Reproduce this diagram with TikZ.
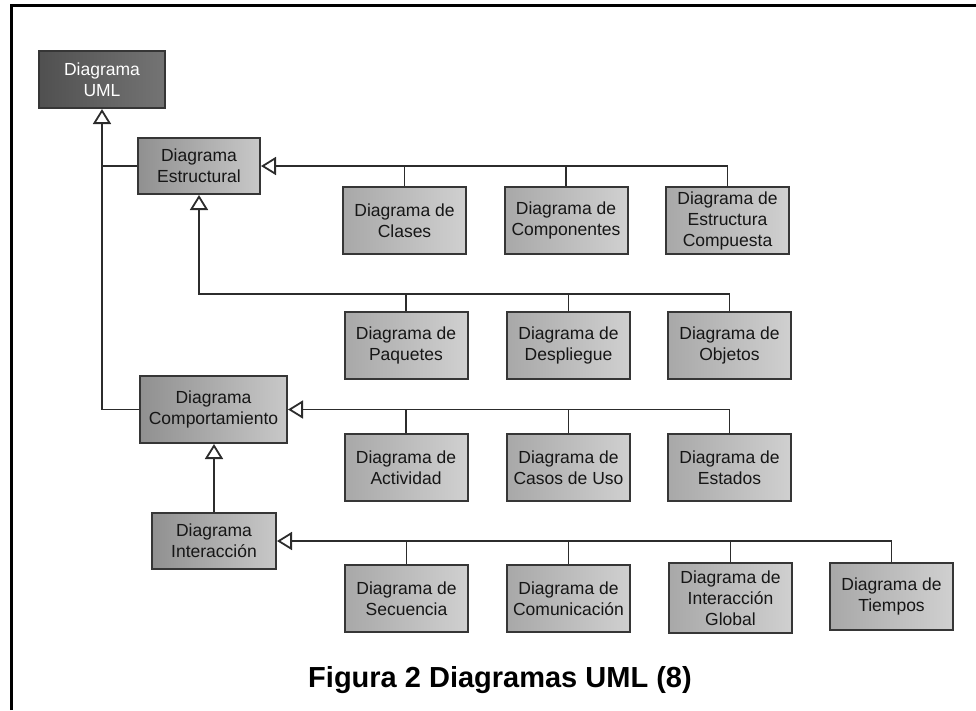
\documentclass[tikz,border=0pt]{standalone}
\usepackage{fontspec}
\setmainfont{Liberation Sans}
\usetikzlibrary{arrows.meta}
\definecolor{edge}{HTML}{2c2c2c}
\definecolor{boxline}{HTML}{363636}
\definecolor{umlA}{HTML}{505050}
\definecolor{umlB}{HTML}{747474}
\definecolor{parA}{HTML}{909090}
\definecolor{parB}{HTML}{c8c8c8}
\definecolor{kidA}{HTML}{a8a8a8}
\definecolor{kidB}{HTML}{d0d0d0}
\definecolor{ink}{HTML}{161616}
\begin{document}
\begin{tikzpicture}[x=1pt,y=-1pt,
  box/.style={draw=boxline, line width=2pt, align=center,
    font=\fontsize{17.5}{21}\selectfont, text=ink, inner sep=0pt},
  kid/.style={box, minimum width=123pt, minimum height=67pt,
    left color=kidA, right color=kidB},
  parent/.style={box, left color=parA, right color=parB},
  link/.style={draw=edge, line width=1.8pt},
  gen/.style={link, -{Triangle[open, length=15pt, width=18pt]}},
]
\useasboundingbox (0,0) rectangle (976,710);

% outer frame (top and left rules)
\draw[line width=3pt, line join=miter] (11,710) -- (11,5.5) -- (976,5.5);

% root and the three abstract categories
\node[box, minimum width=126pt, minimum height=57pt,
      left color=umlA, right color=umlB, text=white] (uml) at (102,79.5) {Diagrama\\UML};
\node[parent, minimum width=122pt, minimum height=56pt] (est) at (199,166) {Diagrama\\Estructural};
\node[parent, minimum width=147pt, minimum height=67pt] (comp) at (213.5,409.5) {Diagrama\\Comportamiento};
\node[parent, minimum width=124pt, minimum height=56pt] (inter) at (214,541) {Diagrama\\Interacción};

% structural diagrams
\node[kid] (clases) at (404.5,220.5) {Diagrama de\\Clases};
\node[kid] (compon) at (566,220.5) {Diagrama de\\Componentes};
\node[kid] (compuesta) at (727.5,220.5) {Diagrama de\\Estructura\\Compuesta};
\node[kid] (paquetes) at (406,345.5) {Diagrama de\\Paquetes};
\node[kid] (despliegue) at (568.5,345.5) {Diagrama de\\Despliegue};
\node[kid] (objetos) at (729.5,345.5) {Diagrama de\\Objetos};

% behaviour diagrams
\node[kid] (actividad) at (406,467.5) {Diagrama de\\Actividad};
\node[kid] (casos) at (568.5,467.5) {Diagrama de\\Casos de Uso};
\node[kid] (estados) at (729.5,467.5) {Diagrama de\\Estados};

% interaction diagrams
\node[kid] (secuencia) at (406.5,598.5) {Diagrama de\\Secuencia};
\node[kid] (comunic) at (568.5,598.5) {Diagrama de\\Comunicación};
\node[kid, minimum height=70pt] (global) at (730.5,598) {Diagrama de\\Interacción\\Global};
\node[kid] (tiempos) at (891.5,596.5) {Diagrama de\\Tiempos};

% generalisations towards the root
\draw[gen] (comp.west) -| (uml.south);
\draw[link] (est.west) -- (est.west -| uml.south);

% structural: first bus
\draw[gen] (compuesta.north) |- (est.east);
\draw[link] (clases.north) -- (clases.north |- est.east);
\draw[link] (compon.north) -- (compon.north |- est.east);

% structural: second bus
\path (est.south) ++(0,99) coordinate (bus2);
\draw[gen] (objetos.north) |- (bus2) -- (est.south);
\draw[link] (paquetes.north) -- (paquetes.north |- bus2);
\draw[link] (despliegue.north) -- (despliegue.north |- bus2);

% behaviour bus
\draw[gen] (estados.north) |- (comp.east);
\draw[link] (actividad.north) -- (actividad.north |- comp.east);
\draw[link] (casos.north) -- (casos.north |- comp.east);

% interaction is a behaviour
\draw[gen] (inter.north) -- (inter.north |- comp.south);

% interaction bus
\draw[gen] (tiempos.north) |- (inter.east);
\draw[link] (secuencia.north) -- (secuencia.north |- inter.east);
\draw[link] (comunic.north) -- (comunic.north |- inter.east);
\draw[link] (global.north) -- (global.north |- inter.east);

% caption
\node[font=\fontsize{29}{34}\selectfont\bfseries, anchor=base, inner sep=0pt]
  (cap) at (500,687) {Figura 2 Diagramas UML (8)};
\end{tikzpicture}
\end{document}
